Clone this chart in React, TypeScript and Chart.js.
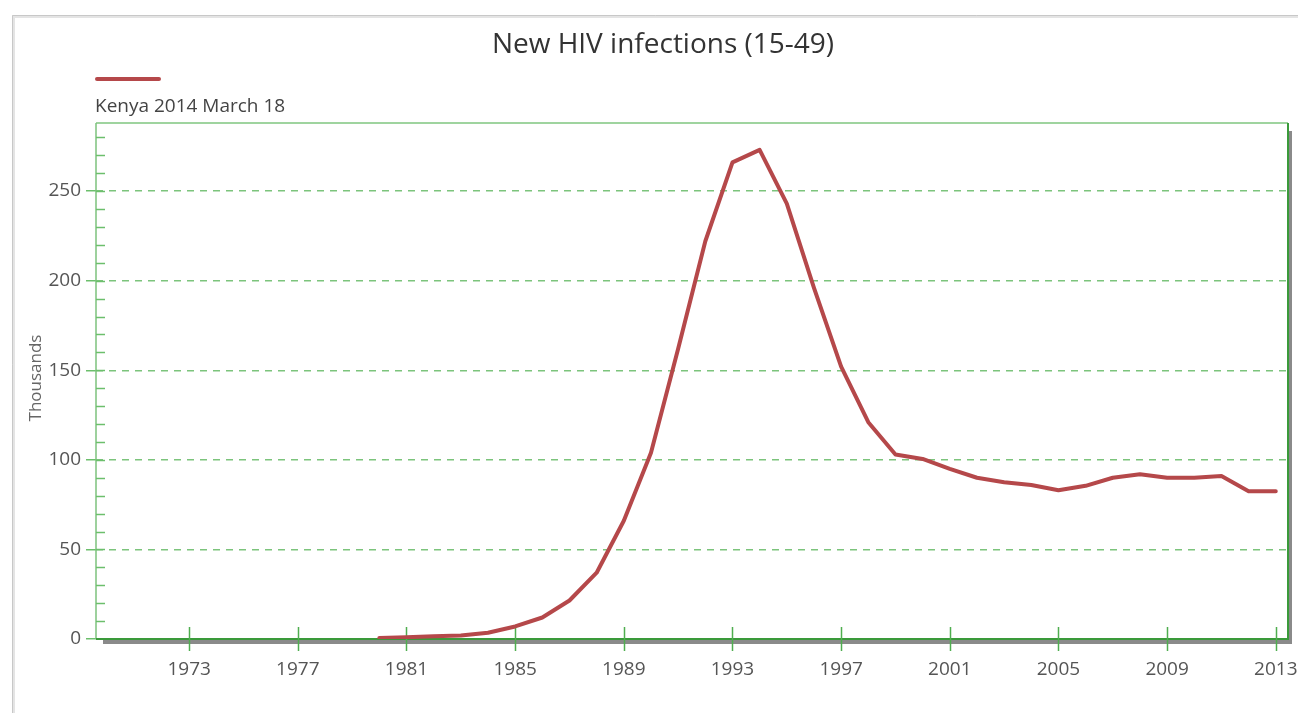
import React, { useEffect, useRef } from "react";
import { Chart, registerables } from "chart.js";

Chart.register(...registerables);

const TITLE = "New HIV infections (15-49)";
const SERIES_LABEL = "Kenya 2014 March 18";
const Y_TITLE = "Thousands";

const YEARS = [
  1980, 1981, 1982, 1983, 1984, 1985, 1986, 1987, 1988, 1989, 1990, 1991,
  1992, 1993, 1994, 1995, 1996, 1997, 1998, 1999, 2000, 2001, 2002, 2003,
  2004, 2005, 2006, 2007, 2008, 2009, 2010, 2011, 2012, 2013,
];
const INFECTIONS = [
  0.5, 1, 1.5, 2, 3.5, 7, 12, 21.5, 37, 66, 104, 162, 222, 266, 273, 243, 196,
  152, 121, 103, 100.5, 95, 90, 87.5, 86, 83, 85.5, 90, 92, 90, 90, 91, 82.5,
  82.5,
];
const X_TICKS = [1973, 1977, 1981, 1985, 1989, 1993, 1997, 2001, 2005, 2009, 2013];
const Y_TICKS = [0, 50, 100, 150, 200, 250];
const Y_MINOR = [10, 20, 30, 40, 50, 60, 70, 80, 90, 100, 110, 120, 130, 140, 150, 160, 170, 180, 190, 200, 210, 220, 230, 240, 250, 260, 270, 280];
const X_MIN = 1969.57;
const X_MAX = 2013.45;
const Y_MAX = 288;

const FONT = "'Open Sans', 'DejaVu Sans', sans-serif";
const LINE_RED = "#b5484a";
const GRID_GREEN = "#7cc47c";
const AXIS_GREEN = "#3a9a3a";
const LIGHT_GREEN = "#9fd49f";

const decorPlugin = {
  id: "decor",
  beforeDraw(chart: any) {
    const { ctx, width, height } = chart;
    ctx.save();
    ctx.fillStyle = "#ffffff";
    ctx.fillRect(0, 0, width, height);
    ctx.strokeStyle = "#e4e4e4";
    ctx.lineWidth = 3;
    ctx.beginPath();
    ctx.moveTo(13.5, height);
    ctx.lineTo(13.5, 16.5);
    ctx.lineTo(width, 16.5);
    ctx.stroke();
    ctx.strokeStyle = "#c8c8c8";
    ctx.lineWidth = 1;
    ctx.beginPath();
    ctx.moveTo(12.5, height);
    ctx.lineTo(12.5, 15.5);
    ctx.lineTo(width, 15.5);
    ctx.stroke();
    ctx.restore();
  },
  beforeDatasetsDraw(chart: any) {
    const { ctx, chartArea } = chart;
    const { left, right, top, bottom } = chartArea;
    const x = chart.scales.x;
    const y = chart.scales.y;
    ctx.save();
    ctx.fillStyle = "#8a8a8a";
    ctx.fillRect(left + 7, bottom + 1, right - left - 4, 4);
    ctx.fillRect(right + 1, top + 8, 3, bottom - top - 3);
    ctx.strokeStyle = LIGHT_GREEN;
    ctx.lineWidth = 2;
    ctx.beginPath();
    ctx.moveTo(left, top);
    ctx.lineTo(right, top);
    ctx.stroke();
    ctx.strokeStyle = "#7cc27c";
    ctx.lineWidth = 1.5;
    ctx.beginPath();
    ctx.moveTo(left, bottom);
    ctx.lineTo(left, top);
    ctx.stroke();
    ctx.strokeStyle = AXIS_GREEN;
    ctx.lineWidth = 2;
    ctx.beginPath();
    ctx.moveTo(right, top);
    ctx.lineTo(right, bottom);
    ctx.lineTo(left, bottom);
    ctx.stroke();
    ctx.strokeStyle = "#6cbf6c";
    ctx.lineWidth = 1.5;
    for (const v of Y_MINOR) {
      const py = Math.round(y.getPixelForValue(v)) + 0.5;
      ctx.beginPath();
      ctx.moveTo(left, py);
      ctx.lineTo(left + 9, py);
      ctx.stroke();
    }
    ctx.strokeStyle = "#4fae4f";
    ctx.lineWidth = 1.5;
    for (const v of X_TICKS) {
      const px = Math.round(x.getPixelForValue(v)) + 0.5;
      ctx.beginPath();
      ctx.moveTo(px, bottom - 12);
      ctx.lineTo(px, bottom + 12);
      ctx.stroke();
    }
    ctx.restore();
  },
  afterDraw(chart: any) {
    const { ctx } = chart;
    ctx.save();
    ctx.fillStyle = "#333333";
    ctx.font = `28px ${FONT}`;
    ctx.textAlign = "center";
    ctx.textBaseline = "middle";
    ctx.fillText(TITLE, 663, 45);
    ctx.strokeStyle = LINE_RED;
    ctx.lineWidth = 4;
    ctx.lineCap = "round";
    ctx.beginPath();
    ctx.moveTo(97, 79);
    ctx.lineTo(159, 79);
    ctx.stroke();
    ctx.fillStyle = "#444444";
    ctx.font = `19px ${FONT}`;
    ctx.textAlign = "left";
    ctx.fillText(SERIES_LABEL, 95, 107);
    ctx.translate(36, 378);
    ctx.rotate(-Math.PI / 2);
    ctx.fillStyle = "#666666";
    ctx.font = `17px ${FONT}`;
    ctx.textAlign = "center";
    ctx.fillText(Y_TITLE, 0, 0);
    ctx.restore();
  },
};

export default function App() {
  const ref = useRef<HTMLCanvasElement | null>(null);

  useEffect(() => {
    if (!ref.current) return;
    const chart = new Chart(ref.current, {
      type: "line",
      data: {
        datasets: [
          {
            label: SERIES_LABEL,
            data: YEARS.map((yr, i) => ({ x: yr, y: INFECTIONS[i] })),
            borderColor: LINE_RED,
            borderWidth: 4,
            pointRadius: 0,
            tension: 0,
            fill: false,
            borderJoinStyle: "round",
            borderCapStyle: "round",
          },
        ],
      },
      options: {
        animation: false,
        responsive: false,
        events: [],
        layout: { padding: { left: 0, top: 123, right: 10, bottom: 0 } },
        plugins: {
          legend: { display: false },
          title: { display: false },
          tooltip: { enabled: false },
        },
        scales: {
          x: {
            type: "linear",
            min: X_MIN,
            max: X_MAX,
            afterBuildTicks: (s: any) => {
              s.ticks = X_TICKS.map((v) => ({ value: v }));
            },
            afterFit: (s: any) => {
              s.height = 74;
              s.paddingLeft = 0;
              s.paddingRight = 0;
            },
            grid: { display: false },
            border: { display: false },
            ticks: {
              padding: 11,
              color: "#555555",
              font: { family: FONT, size: 19 },
              maxRotation: 0,
              autoSkip: false,
              callback: (v: any) => String(v),
            },
          },
          y: {
            type: "linear",
            min: 0,
            max: Y_MAX,
            afterBuildTicks: (s: any) => {
              s.ticks = Y_TICKS.map((v) => ({ value: v }));
            },
            afterFit: (s: any) => {
              s.width = 96;
              s.paddingTop = 0;
              s.paddingBottom = 0;
            },
            grid: {
              color: (c: any) =>
                c.tick && c.tick.value === 0 ? "rgba(0,0,0,0)" : GRID_GREEN,
              lineWidth: 1.5,
              tickColor: "#6cbf6c",
              tickLength: 10,
              tickWidth: 1.5,
            },
            border: { display: false, dash: [7, 6] },
            ticks: {
              padding: 5,
              color: "#555555",
              font: { family: FONT, size: 19 },
            },
          },
        },
      },
      plugins: [decorPlugin],
    } as any);
    return () => chart.destroy();
  }, []);

  return (
    <div style={{ position: "absolute", left: 0, top: 0, width: 1298, height: 713 }}>
      <canvas ref={ref} width={1298} height={713} style={{ display: "block" }} />
    </div>
  );
}
